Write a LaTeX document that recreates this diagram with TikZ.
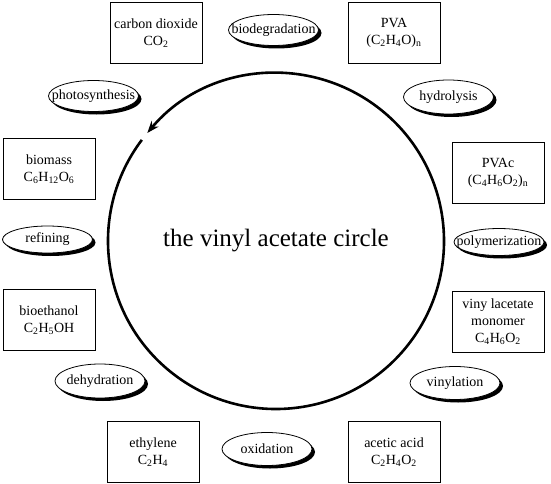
\documentclass[tikz,border=0pt]{standalone}
\usepackage{fontspec}
\setmainfont{Liberation Serif}
\usetikzlibrary{shapes.geometric,shadows,arrows.meta}
\newcommand{\sub}[1]{\textsubscript{#1}}
\newcommand{\pname}[1]{\makebox[0pt]{#1}}

\begin{document}
\begin{tikzpicture}[x=1pt,y=1pt,
  chembox/.style={draw,line width=.9pt,minimum width=92pt,minimum height=61pt,align=center,
    font=\fontsize{14}{17}\selectfont,inner sep=1pt},
  procstep/.style={ellipse,draw,line width=.8pt,fill=white,minimum width=90pt,minimum height=31pt,
    inner sep=0pt,font=\fontsize{14}{17}\selectfont,
    general shadow={fill=black,shadow xshift=3pt,shadow yshift=-3pt}}]
\path[use as bounding box] (0,0) rectangle (551,483);
% the circle
\coordinate (ctr) at (276,242);
\draw[line width=2.6pt,-{Stealth[length=12pt,width=9pt]}] (ctr) ++(143:168) arc[start angle=143,end angle=500,radius=168];
\node (title) at (ctr) {\fontsize{25}{30}\selectfont the vinyl acetate circle};
% compounds
\node[chembox] (co2) at (156,450) {carbon dioxide\\CO\sub{2}};
\node[chembox] (pva) at (394,450) {PVA\\(C\sub{2}H\sub{4}O)\sub{n}};
\node[chembox] (biomass) at (49,314) {biomass\\C\sub{6}H\sub{12}O\sub{6}};
\node[chembox] (pvac) at (498,310.5) {PVAc\\(C\sub{4}H\sub{6}O\sub{2})\sub{n}};
\node[chembox] (ethanol) at (49,163) {bioethanol\\C\sub{2}H\sub{5}OH};
\node[chembox] (vam) at (498,161) {viny lacetate\\monomer\\C\sub{4}H\sub{6}O\sub{2}};
\node[chembox] (ethylene) at (153,31) {ethylene\\C\sub{2}H\sub{4}};
\node[chembox] (acetic) at (394,31) {acetic acid\\C\sub{2}H\sub{4}O\sub{2}};
% processes
\node[procstep] (biodeg) at (273.5,453) {\pname{biodegradation}};
\node[procstep,minimum height=34pt] (hydro) at (448.5,386) {\pname{hydrolysis}};
\node[procstep] (photo) at (93.5,387) {\pname{photosynthesis}};
\node[procstep,minimum height=27pt] (refine) at (47.5,243.5) {\pname{refining}};
\node[procstep,minimum height=27pt] (polym) at (499,241) {\pname{polymerization}};
\node[procstep,minimum height=34pt] (dehyd) at (100,102) {\pname{dehydration}};
\node[procstep,minimum height=33pt] (vinyl) at (455,100) {\pname{vinylation}};
\node[procstep,minimum height=33pt] (oxid) at (267,34) {\pname{oxidation}};
\end{tikzpicture}
\end{document}
